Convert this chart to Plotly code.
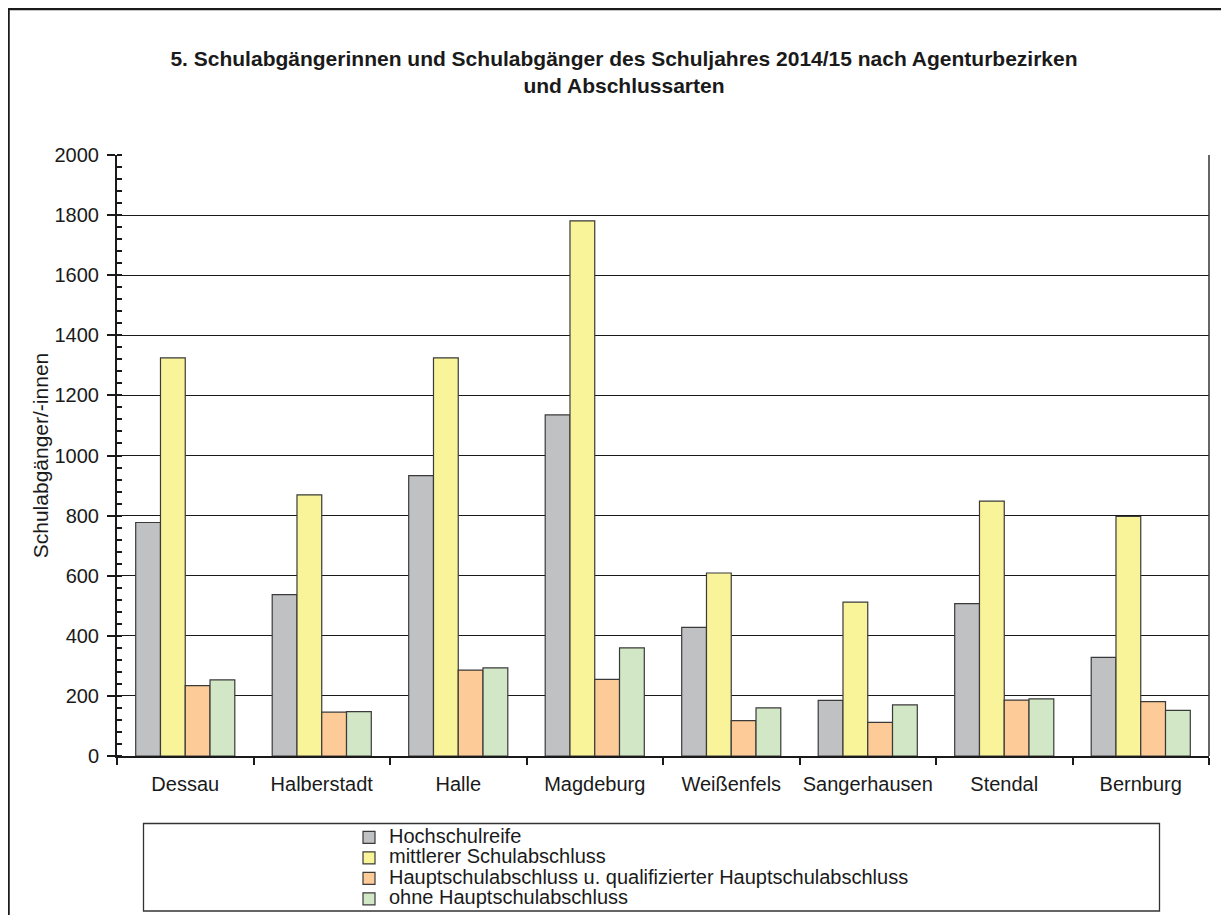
import plotly.graph_objects as go

categories = ["Dessau", "Halberstadt", "Halle", "Magdeburg", "Weißenfels",
              "Sangerhausen", "Stendal", "Bernburg"]
series_names = ["Hochschulreife", "mittlerer Schulabschluss",
                "Hauptschulabschluss u. qualifizierter Hauptschulabschluss",
                "ohne Hauptschulabschluss"]
hochschulreife = [777, 537, 933, 1135, 428, 185, 507, 328]
mittlerer = [1325, 869, 1325, 1781, 609, 512, 848, 797]
hauptschul = [234, 146, 286, 255, 118, 112, 186, 181]
ohne = [253, 148, 293, 360, 160, 170, 190, 152]
y_ticks = [0, 200, 400, 600, 800, 1000, 1200, 1400, 1600, 1800, 2000]

values = [hochschulreife, mittlerer, hauptschul, ohne]
colors = ["#C0C1C3", "#F9F39A", "#FDCB97", "#D1E7C5"]

FONT = "Liberation Sans, Arial, sans-serif"
# page has an 8px body margin; figure coordinates = page coordinates - 8
OFF = 8
W, H = 1229 - OFF, 915 - OFF
PL, PR, PT, PB = 117, 1209, 155, 756   # plot area in page pixels
ML, MR, MT, MB = PL - OFF, W - (PR - OFF), PT - OFF, H - (PB - OFF)


def px_x(x):
    return (x - PL) / (PR - PL)


def px_y(y):
    return (PB - y) / (PB - PT)


fig = go.Figure()
for name, vals, col in zip(series_names, values, colors):
    fig.add_trace(go.Bar(
        x=categories, y=vals,
        name=f'<span style="font-size:20px">{name}</span>',
        marker=dict(color=col, line=dict(color="#3a3a3a", width=1.2)),
    ))

fig.update_layout(
    width=W, height=H,
    margin=dict(l=ML, r=MR, t=MT, b=MB, pad=0, autoexpand=False),
    paper_bgcolor="white", plot_bgcolor="white",
    font=dict(family=FONT, size=20, color="#1a1a1a"),
    barmode="group", bargap=0.274, bargroupgap=0,
    title=dict(
        text="<b>5. Schulabgängerinnen und Schulabgänger des Schuljahres 2014/15 nach Agenturbezirken<br>und Abschlussarten</b>",
        x=(624 - OFF) / W, xref="container", xanchor="center",
        y=1 - (72 - 14) / H, yref="container", yanchor="middle",
        font=dict(family=FONT, size=21, color="#1a1a1a"),
    ),
    showlegend=True,
    legend=dict(
        x=px_x(349), xanchor="left", y=px_y(822), yanchor="top",
        font=dict(family=FONT, size=13.5, color="#1a1a1a"),
        bgcolor="rgba(0,0,0,0)", borderwidth=0,
        traceorder="normal",
    ),
    xaxis=dict(
        type="category", tickson="boundaries", tickangle=0, automargin=False,
        ticks="outside", ticklen=7, tickwidth=1.5, tickcolor="#1a1a1a",
        showline=True, linecolor="#1a1a1a", linewidth=2,
        showgrid=False, tickfont=dict(size=20), ticklabelstandoff=9,
    ),
    yaxis=dict(
        range=[0, 2000], tickvals=y_ticks,
        ticks="outside", ticklen=8, tickwidth=1.5, tickcolor="#1a1a1a",
        showline=True, linecolor="#1a1a1a", linewidth=2,
        showgrid=True, gridcolor="#1a1a1a", gridwidth=1,
        zeroline=False, tickfont=dict(size=20), ticklabelstandoff=4,
        minor=dict(dtick=40, ticks="inside", ticklen=5, tickwidth=1.5,
                   tickcolor="#1a1a1a", showgrid=False),
        title=dict(text="Schulabgänger/-innen", font=dict(size=21), standoff=0),
    ),
    shapes=[
        # right border of plot area
        dict(type="line", xref="paper", yref="paper", x0=1, x1=1, y0=0, y1=1,
             line=dict(color="#333333", width=1.5)),
        # legend box
        dict(type="rect", xref="paper", yref="paper",
             x0=px_x(143.5), x1=px_x(1159.5), y0=px_y(911), y1=px_y(823.5),
             line=dict(color="#333333", width=1.3), layer="below"),
        # outer frame
        dict(type="rect", xref="paper", yref="paper",
             x0=px_x(8.5), x1=px_x(1229 + 10), y0=px_y(915 + 10), y1=px_y(9),
             line=dict(color="#1a1a1a", width=2.5), layer="below"),
    ],
)

fig.write_html("out.html")
